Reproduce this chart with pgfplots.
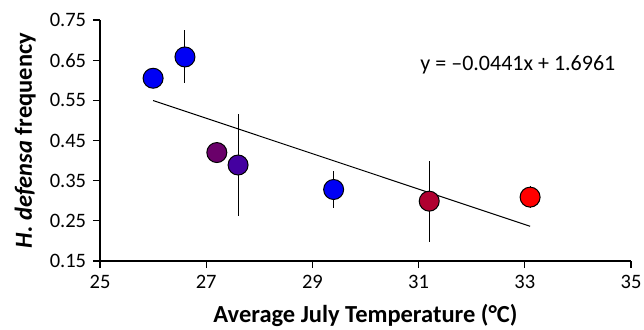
\documentclass[border=0pt]{standalone}
\usepackage{pgfplots}
\pgfplotsset{compat=1.18}
\usepackage{fontspec}
\setmainfont{Carlito}
\definecolor{cblue}{RGB}{0,0,245}
\definecolor{cpurple}{RGB}{106,0,106}
\definecolor{cindigo}{RGB}{68,0,160}
\definecolor{ccrimson}{RGB}{176,0,48}
\definecolor{cred}{RGB}{255,0,0}
\begin{document}
\fontsize{20}{24}\selectfont
\begin{tikzpicture}
\begin{axis}[
  at={(0pt,0pt)}, anchor=south west,
  scale only axis, width=531pt, height=241pt,
  xmin=25, xmax=35, ymin=0.15, ymax=0.75,
  xtick={25,27,29,31,33,35},
  ytick={0.15,0.25,0.35,0.45,0.55,0.65,0.75},
  axis lines*=left,
  axis line style={line width=1.2pt},
  tick style={line width=1.2pt, black},
  tick align=outside, major tick length=7pt,
  /pgf/number format/assume math mode=true,
  yticklabel style={/pgf/number format/fixed, /pgf/number format/fixed zerofill, /pgf/number format/precision=2},
  ticklabel style={font=\fontsize{20.5}{24}\selectfont},
  xlabel={\bfseries Average July Temperature (°C)},
  ylabel={\bfseries\itshape H. defensa\upshape{} frequency},
  label style={font=\fontsize{24.5}{28}\selectfont},
  ylabel style={at={(axis description cs:-0.141,0.5)}, anchor=center},
  xlabel style={at={(axis description cs:0.5,-0.224)}, anchor=center},
  every axis plot/.append style={line width=1pt},
  error bars/error bar style={black, line width=1pt},
  error bars/error mark=none,
  clip=false,
]
\addplot[black, line width=1pt] coordinates {(26,0.5495) (33.1,0.2364)};
\addplot[only marks, mark=*, mark size=10pt, mark options={fill=cblue, draw=black, line width=1pt}] coordinates {(26.0,0.605)};
\addplot[only marks, mark=*, mark size=10pt, mark options={fill=cblue, draw=black, line width=1pt},
  error bars/.cd, y dir=both, y explicit, error mark=none] coordinates {(26.6,0.658) +- (0,0.066)};
\addplot[only marks, mark=*, mark size=10pt, mark options={fill=cpurple, draw=black, line width=1pt}] coordinates {(27.2,0.42)};
\addplot[only marks, mark=*, mark size=10pt, mark options={fill=cindigo, draw=black, line width=1pt},
  error bars/.cd, y dir=both, y explicit, error mark=none] coordinates {(27.6,0.389) +- (0,0.127)};
\addplot[only marks, mark=*, mark size=10pt, mark options={fill=cblue, draw=black, line width=1pt},
  error bars/.cd, y dir=both, y explicit, error mark=none] coordinates {(29.4,0.328) +- (0,0.047)};
\addplot[only marks, mark=*, mark size=10pt, mark options={fill=ccrimson, draw=black, line width=1pt},
  error bars/.cd, y dir=both, y explicit, error mark=none] coordinates {(31.2,0.299) +- (0,0.101)};
\addplot[only marks, mark=*, mark size=10pt, mark options={fill=cred, draw=black, line width=1pt},
  error bars/.cd, y dir=both, y explicit, error mark=none] coordinates {(33.1,0.309) +- (0,0.028)};
\node[font=\fontsize{22}{26}\selectfont] at (axis cs:32.87,0.638) {y = –0.0441x + 1.6961};
\end{axis}
\pgfresetboundingbox
\path (-100pt,-68pt) rectangle (544pt,261pt);
\end{tikzpicture}
\end{document}
